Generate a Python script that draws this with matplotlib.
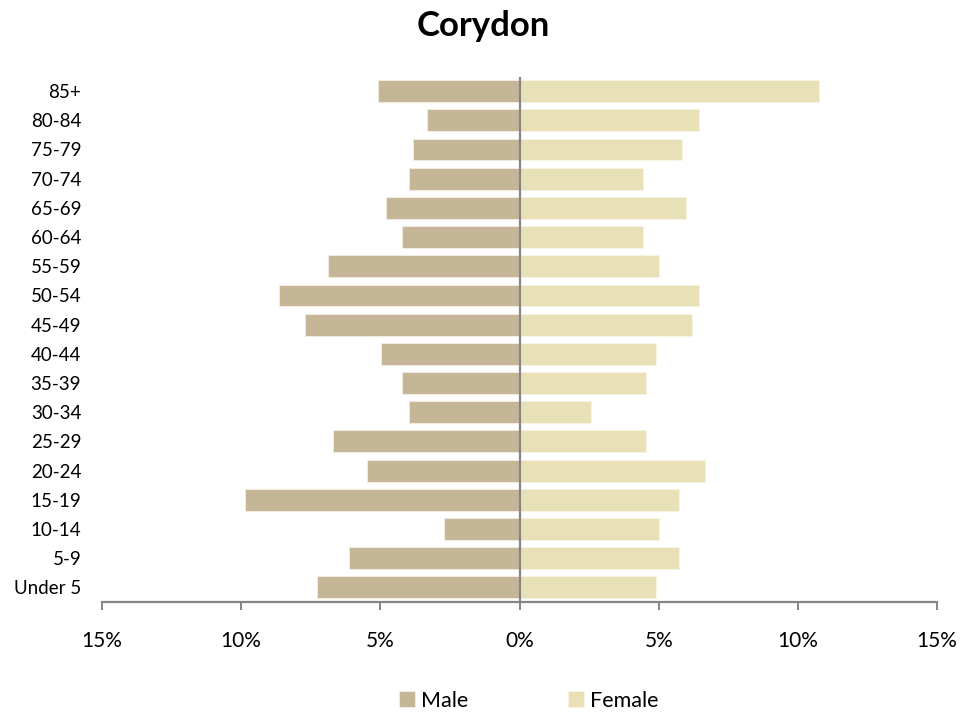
import matplotlib.pyplot as plt
from matplotlib.ticker import FuncFormatter

plt.rcParams['font.family'] = ['Lato', 'DejaVu Sans']

age_groups = ["Under 5", "5-9", "10-14", "15-19", "20-24", "25-29", "30-34",
              "35-39", "40-44", "45-49", "50-54", "55-59", "60-64", "65-69",
              "70-74", "75-79", "80-84", "85+"]
male = [7.28, 6.14, 2.72, 9.87, 5.47, 6.71, 3.97, 4.24, 4.96, 7.71, 8.63,
        6.88, 4.24, 4.80, 3.97, 3.83, 3.31, 5.07]
female = [4.90, 5.72, 5.00, 5.72, 6.65, 4.53, 2.57, 4.53, 4.90, 6.19, 6.45,
          5.00, 4.44, 5.97, 4.44, 5.83, 6.45, 10.74]
x_ticks = [-15, -10, -5, 0, 5, 10, 15]

male_color = '#C4B696'
female_color = '#E8E1B8'
axis_gray = '#868686'

fig = plt.figure(figsize=(9.79, 7.13), dpi=100)
ax = fig.add_axes([0.1042, 0.1557, 0.853, 0.737])

pos = list(range(len(age_groups)))
ax.barh(pos, [-v for v in male], height=0.75, color=male_color,
        edgecolor='#F3EFE3', linewidth=0.6, label='Male')
ax.barh(pos, female, height=0.75, color=female_color,
        edgecolor='#F8F5E6', linewidth=0.6, label='Female')

ax.axvline(0, color=axis_gray, linewidth=1.6, zorder=3)

ax.set_xlim(-15, 15)
ax.set_ylim(-0.5, len(age_groups) - 0.5)
ax.set_xticks(x_ticks)
ax.xaxis.set_major_formatter(FuncFormatter(lambda v, p: f"{abs(int(v))}%"))
ax.set_yticks(pos)
ax.set_yticklabels(age_groups)

for side in ['top', 'right', 'left']:
    ax.spines[side].set_visible(False)
ax.spines['bottom'].set_color(axis_gray)
ax.spines['bottom'].set_linewidth(1.6)

ax.tick_params(axis='x', length=6, width=1.4, color=axis_gray,
               labelsize=15, pad=15)
ax.tick_params(axis='y', length=0, labelsize=13.5, pad=15)

fig.text(0.494, 0.963, "Corydon", ha='center', va='center',
         fontsize=25, fontweight='bold')

fig.legend(loc='lower center', bbox_to_anchor=(0.54, -0.024), ncol=2,
           frameon=False, fontsize=15.5, handlelength=0.75, handleheight=0.75,
           handletextpad=0.3, columnspacing=4.6)

fig.savefig('out.png', dpi=100)
